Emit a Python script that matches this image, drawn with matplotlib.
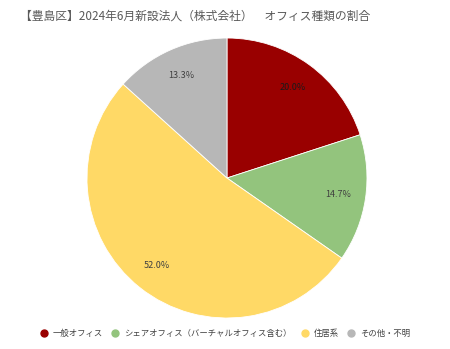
import matplotlib.pyplot as plt

plt.rcParams['font.family'] = ['Noto Sans CJK JP', 'DejaVu Sans']

title = '【豊島区】2024年6月新設法人（株式会社）　オフィス種類の割合'
categories = ['一般オフィス', 'シェアオフィス（バーチャルオフィス含む）', '住居系', 'その他・不明']
shares = [20.0, 14.7, 52.0, 13.3]
colors = ['#990000', '#93C47D', '#FFD966', '#B7B7B7']

fig = plt.figure(figsize=(4.5, 3.49), dpi=100)
ax = fig.add_axes([0.1933, 0.0888, 0.6222, 0.8023])

wedges, texts = ax.pie(shares, colors=colors, startangle=90, counterclock=False,
                       radius=1.0, wedgeprops=dict(edgecolor='white', linewidth=0.6),
                       labels=[f'{v:.1f}%' for v in shares], labeldistance=0.8,
                       textprops=dict(fontsize=6.5, color='#404040'))
for t in texts:
    t.set_horizontalalignment('center')
    t.set_verticalalignment('center')
texts[0].set_color('#1a1a1a')
ax.set_xlim(-1, 1)
ax.set_ylim(-1, 1)
ax.set_aspect('equal')

fig.text(0.045, 0.955, title, fontsize=8.5, color='#595959', va='center', ha='left')

handles = [plt.Line2D([], [], marker='o', linestyle='', markersize=5,
                      markerfacecolor=c, markeredgecolor=c) for c in colors]
fig.legend(handles, categories, loc='center', bbox_to_anchor=(0.5, 0.045), ncol=4,
           frameon=False, fontsize=6, labelcolor='#404040', handletextpad=0.6,
           columnspacing=1.0, handlelength=1.0)

fig.savefig('out.png', dpi=100)
